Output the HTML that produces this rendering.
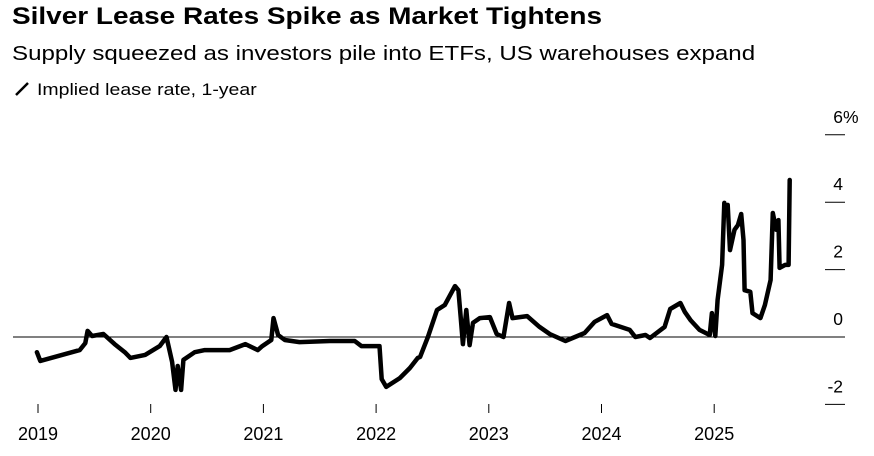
<!DOCTYPE html>
<html><head><meta charset="utf-8">
<style>
html,body{margin:0;padding:0;background:#fff;}
body{width:874px;height:456px;overflow:hidden;font-family:"Liberation Sans",sans-serif;position:relative;}
#title{position:absolute;left:12px;top:3px;font-size:24px;font-weight:bold;color:#000;transform:scaleX(1.165);transform-origin:0 0;white-space:nowrap;}
#sub{position:absolute;left:12px;top:42px;font-size:20.5px;color:#000;transform:scaleX(1.175);transform-origin:0 0;white-space:nowrap;}
#legend{position:absolute;left:14px;top:81px;font-size:16.5px;color:#000;white-space:nowrap;}
#legend span{display:inline-block;transform:scaleX(1.18);transform-origin:0 0;}
svg{position:absolute;left:0;top:0;}
</style></head><body>
<div id="title">Silver Lease Rates Spike as Market Tightens</div>
<div id="sub">Supply squeezed as investors pile into ETFs, US warehouses expand</div>
<div id="legend"><svg width="18" height="16" style="position:relative;display:inline-block;vertical-align:-2px"><line x1="2" y1="14" x2="14" y2="2" stroke="#000" stroke-width="2.5"/></svg> <span>Implied lease rate, 1-year</span></div>
<svg id="chart" width="874" height="456"></svg>
<script>
const dates=[2018.99,2019.02,2019.37,2019.42,2019.44,2019.48,2019.58,2019.68,2019.77,2019.82,2019.95,2020.08,2020.14,2020.19,2020.22,2020.24,2020.27,2020.29,2020.39,2020.48,2020.70,2020.84,2020.95,2020.99,2021.07,2021.09,2021.13,2021.19,2021.32,2021.59,2021.81,2021.87,2022.03,2022.05,2022.09,2022.21,2022.30,2022.37,2022.39,2022.46,2022.54,2022.61,2022.70,2022.73,2022.75,2022.77,2022.80,2022.83,2022.86,2022.92,2023.01,2023.07,2023.13,2023.18,2023.21,2023.34,2023.45,2023.54,2023.68,2023.85,2023.94,2024.05,2024.09,2024.25,2024.30,2024.39,2024.43,2024.56,2024.61,2024.70,2024.74,2024.79,2024.87,2024.96,2024.98,2025.01,2025.03,2025.07,2025.09,2025.10,2025.12,2025.14,2025.18,2025.21,2025.24,2025.26,2025.27,2025.32,2025.34,2025.41,2025.45,2025.50,2025.52,2025.55,2025.57,2025.58,2025.63,2025.66,2025.67];
const rates=[-0.45,-0.71,-0.39,-0.18,0.18,0.03,0.09,-0.21,-0.45,-0.62,-0.53,-0.27,0,-0.74,-1.57,-0.86,-1.57,-0.68,-0.45,-0.39,-0.39,-0.21,-0.39,-0.27,-0.09,0.56,0.06,-0.09,-0.15,-0.12,-0.12,-0.27,-0.27,-1.25,-1.48,-1.22,-0.92,-0.62,-0.59,0,0.8,0.95,1.51,1.39,0.62,-0.21,0.8,-0.24,0.42,0.56,0.59,0.09,0,1.01,0.56,0.62,0.3,0.09,-0.12,0.12,0.45,0.65,0.39,0.21,0,0.06,-0.03,0.3,0.83,1.01,0.74,0.5,0.21,0.06,0.71,0.03,1.1,2.14,3.98,3.71,3.92,2.58,3.18,3.32,3.65,2.88,1.39,1.34,0.71,0.56,0.95,1.69,3.68,3.18,3.47,2.05,2.14,2.14,4.66];
const yTicks=[6,4,2,0,-2];
const yLabels=["6","4","2","0","-2"];
const xTicks=[2019,2020,2021,2022,2023,2024,2025];
const xLabels=["2019","2020","2021","2022","2023","2024","2025"];
const NS="http://www.w3.org/2000/svg";
const svg=document.getElementById('chart');
const X=t=>38+112.7*(t-2019);
const Y=v=>337-33.7*v;
function mk(tag,attrs){const e=document.createElementNS(NS,tag);for(const k in attrs)e.setAttribute(k,attrs[k]);svg.appendChild(e);return e;}
yTicks.forEach((v,i)=>{
  const l=mk('line',{x1:825,x2:845,y1:Y(v),y2:Y(v),stroke:'#000','stroke-width':1});
  
  
  const t=mk('text',{x:843,y:Y(v)-12,'text-anchor':'end','font-size':17.5,'font-family':'Liberation Sans, sans-serif',fill:'#000'});
  t.textContent=yLabels[i];
  
  
  if(i===0){
    const pc=mk('text',{x:843,y:Y(v)-12,'font-size':17.5,'font-family':'Liberation Sans, sans-serif',fill:'#000'});
    pc.textContent='%';
    
    
  }
});
const z=mk('line',{x1:13,x2:845,y1:Y(0),y2:Y(0),stroke:'#000','stroke-width':1});


xTicks.forEach((v,i)=>{
  const l=mk('line',{x1:X(v),x2:X(v),y1:404,y2:413,stroke:'#000','stroke-width':1});
  
  
  const t=mk('text',{x:X(v),y:440,'text-anchor':'middle','font-size':18,'font-family':'Liberation Sans, sans-serif',fill:'#000'});
  t.textContent=xLabels[i];
  
  
});
const d=dates.map((t,i)=>(i?'L':'M')+X(t).toFixed(1)+','+Y(rates[i]).toFixed(1)).join('');
const p=mk('path',{d:d,fill:'none',stroke:'#000','stroke-width':4.5,'stroke-linejoin':'round','stroke-linecap':'round'});


</script>
</body></html>
